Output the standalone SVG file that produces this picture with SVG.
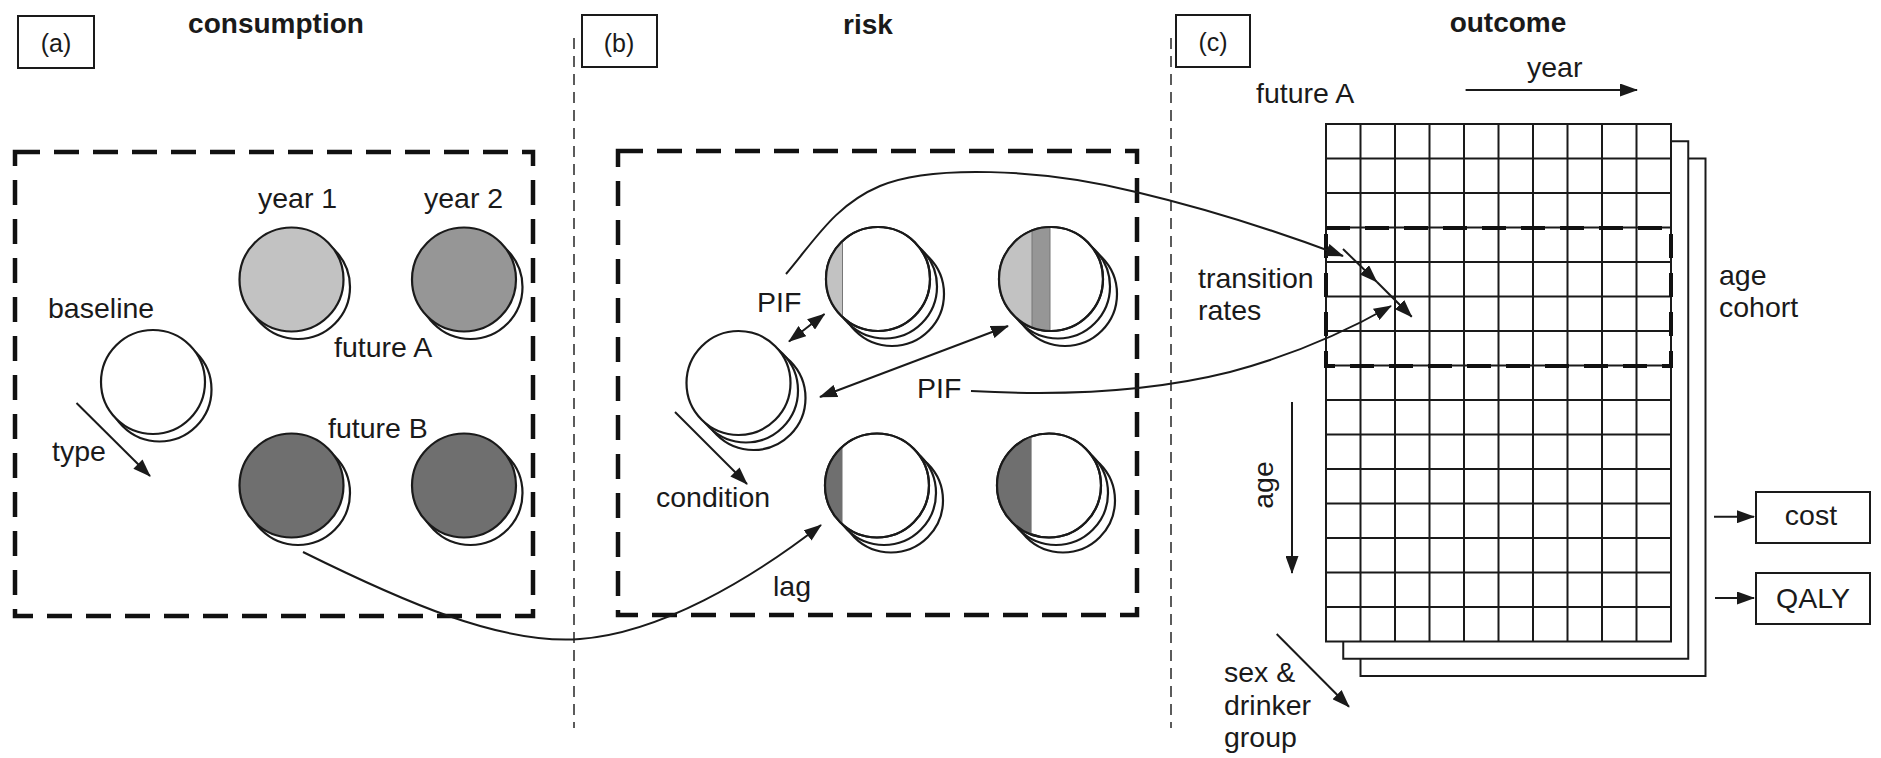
<svg xmlns="http://www.w3.org/2000/svg" width="1881" height="758" viewBox="0 0 1881 758">
<style>
text{font-family:"Liberation Sans",Arial,sans-serif;font-size:28.5px;fill:#1a1a1a}
.title{font-weight:bold;font-size:28px;text-anchor:middle}
.lbl{font-size:25px;text-anchor:middle}
.box{fill:#fff;stroke:#1a1a1a;stroke-width:2}
.zone{fill:none;stroke:#111;stroke-width:4.5;stroke-dasharray:25 14}
.div{fill:none;stroke:#333;stroke-width:1.6;stroke-dasharray:11 7}
.c{stroke:#1a1a1a;stroke-width:2.2;fill:#fff}
.c1{fill:#c2c2c2}
.c2{fill:#969696}
.c3{fill:#6f6f6f}
.cn{fill:none;stroke:#1a1a1a;stroke-width:2}
.g{fill:none;stroke:#1a1a1a;stroke-width:2}
.sheet{fill:#fff;stroke:#1a1a1a;stroke-width:2}
.sep{stroke:#777;stroke-width:1}
.ring{fill:none;stroke:#1a1a1a;stroke-width:2.2}
</style>
<defs>
<marker id="ah" viewBox="0 0 18 13" markerWidth="18" markerHeight="13" refX="17" refY="6.5" markerUnits="userSpaceOnUse" orient="auto-start-reverse">
<path d="M0,0 L18,6.5 L0,13 z" fill="#1a1a1a"/>
</marker>
<clipPath id="k1"><circle cx="878" cy="279" r="52"/></clipPath>
<clipPath id="k2"><circle cx="1051" cy="279" r="52"/></clipPath>
<clipPath id="k3"><circle cx="877" cy="485.5" r="52"/></clipPath>
<clipPath id="k4"><circle cx="1049" cy="485.5" r="52"/></clipPath>
</defs>
<rect width="1881" height="758" fill="#fff"/>

<!-- panel labels and titles -->
<g id="label-a"><rect class="box" x="18" y="16" width="76" height="52"/><text class="lbl" x="56" y="52">(a)</text></g>
<g id="label-b"><rect class="box" x="582" y="15" width="75" height="52"/><text class="lbl" x="619" y="52">(b)</text></g>
<g id="label-c"><rect class="box" x="1176" y="15" width="74" height="52"/><text class="lbl" x="1213" y="51">(c)</text></g>
<text class="title" x="276" y="33">consumption</text>
<text class="title" x="868" y="34">risk</text>
<text class="title" x="1508" y="32">outcome</text>

<!-- dividers and zones -->
<line class="div" x1="574" y1="38" x2="574" y2="728"/>
<line class="div" x1="1171" y1="38" x2="1171" y2="728"/>
<rect class="zone" x="15" y="152" width="518" height="464"/>
<rect class="zone" x="618" y="151" width="519" height="464"/>

<!-- (a) consumption nodes -->
<g id="baseline">
<circle class="c" cx="159.5" cy="389.5" r="52"/><circle class="c" cx="153" cy="382" r="52"/>
<text x="48" y="318">baseline</text>
</g>
<g id="year1">
<circle class="c" cx="298" cy="287" r="52"/><circle class="c c1" cx="291.5" cy="279.5" r="52"/>
<text x="258" y="208">year 1</text>
</g>
<g id="year2">
<circle class="c" cx="470.5" cy="287" r="52"/><circle class="c c2" cx="464" cy="279.5" r="52"/>
<text x="424" y="208">year 2</text>
</g>
<text x="334" y="357">future A</text>
<g id="futureB1">
<circle class="c" cx="298" cy="493" r="52"/><circle class="c c3" cx="291.5" cy="485.5" r="52"/>
</g>
<g id="futureB2">
<circle class="c" cx="470.5" cy="493" r="52"/><circle class="c c3" cx="464" cy="485.5" r="52"/>
</g>
<text x="328" y="438">future B</text>
<text x="52" y="461">type</text>

<!-- (b) risk nodes -->
<g id="risk-base">
<circle class="c" cx="753.5" cy="398" r="52"/><circle class="c" cx="746" cy="390.5" r="52"/><circle class="c" cx="738.5" cy="383" r="52"/>
</g>
<g id="risk-a1">
<circle class="c" cx="892" cy="294" r="52"/><circle class="c" cx="885" cy="286.5" r="52"/><circle class="c" cx="878" cy="279" r="52"/>
<rect class="c1" x="820" y="220" width="22.5" height="120" clip-path="url(#k1)"/>
<line class="sep" x1="842.5" y1="220" x2="842.5" y2="340" clip-path="url(#k1)"/>
<circle class="ring" cx="878" cy="279" r="52"/>
</g>
<g id="risk-a2">
<circle class="c" cx="1065" cy="294" r="52"/><circle class="c" cx="1058" cy="286.5" r="52"/><circle class="c" cx="1051" cy="279" r="52"/>
<rect class="c1" x="990" y="220" width="42" height="120" clip-path="url(#k2)"/>
<rect class="c2" x="1032" y="220" width="18" height="120" clip-path="url(#k2)"/>
<line class="sep" x1="1032" y1="220" x2="1032" y2="340" clip-path="url(#k2)"/>
<line class="sep" x1="1050" y1="220" x2="1050" y2="340" clip-path="url(#k2)"/>
<circle class="ring" cx="1051" cy="279" r="52"/>
</g>
<g id="risk-b1">
<circle class="c" cx="891" cy="500.5" r="52"/><circle class="c" cx="884" cy="493" r="52"/><circle class="c" cx="877" cy="485.5" r="52"/>
<rect class="c3" x="820" y="425" width="22.5" height="120" clip-path="url(#k3)"/>
<circle class="ring" cx="877" cy="485.5" r="52"/>
</g>
<g id="risk-b2">
<circle class="c" cx="1063" cy="500.5" r="52"/><circle class="c" cx="1056" cy="493" r="52"/><circle class="c" cx="1049" cy="485.5" r="52"/>
<rect class="c3" x="990" y="425" width="41.6" height="120" clip-path="url(#k4)"/>
<circle class="ring" cx="1049" cy="485.5" r="52"/>
</g>
<text x="757" y="312">PIF</text>
<text x="917" y="398">PIF</text>
<text x="656" y="507">condition</text>
<text x="773" y="596">lag</text>

<!-- (c) outcome -->
<g id="cohort-grid">
<rect class="sheet" x="1360.5" y="158.5" width="345" height="517.5"/>
<rect class="sheet" x="1343.25" y="141.25" width="345" height="517.5"/>
<rect class="sheet" x="1326" y="124" width="345" height="517.5"/>
<path class="g" d="M1360.5 124V641.5M1395 124V641.5M1429.5 124V641.5M1464 124V641.5M1498.5 124V641.5M1533 124V641.5M1567.5 124V641.5M1602 124V641.5M1636.5 124V641.5
M1326 158.5H1671M1326 193H1671M1326 227.5H1671M1326 262H1671M1326 296.5H1671M1326 331H1671M1326 365.5H1671M1326 400H1671M1326 434.5H1671M1326 469H1671M1326 503.5H1671M1326 538H1671M1326 572.5H1671M1326 607H1671"/>
<rect x="1326" y="228" width="345" height="138" fill="none" stroke="#111" stroke-width="4" stroke-dasharray="24 15"/>
</g>
<text x="1256" y="103">future A</text>
<text x="1527" y="77">year</text>
<text x="1198" y="288">transition</text>
<text x="1198" y="320">rates</text>
<text x="1719" y="285">age</text>
<text x="1719" y="317">cohort</text>
<text transform="translate(1273 485) rotate(-90)" text-anchor="middle">age</text>
<text x="1224" y="682">sex &amp;</text>
<text x="1224" y="715">drinker</text>
<text x="1224" y="747">group</text>
<g id="cost"><rect class="box" x="1756" y="492" width="114" height="51"/><text x="1811" y="525" text-anchor="middle">cost</text></g>
<g id="qaly"><rect class="box" x="1756" y="573" width="114" height="51"/><text x="1813" y="608" text-anchor="middle">QALY</text></g>

<!-- connectors -->
<g id="connectors" class="cn" marker-end="url(#ah)">
<line x1="76.5" y1="403" x2="150" y2="476"/>
<line x1="675" y1="412" x2="747" y2="484"/>
<line x1="789" y1="341.5" x2="824.5" y2="314" marker-start="url(#ah)"/>
<line x1="820" y1="397" x2="1008" y2="326" marker-start="url(#ah)"/>
<path d="M303 552 C400 600,500 645,580 639 C660 633,750 580,821 525"/>
<path d="M786 274 C815 240,835 205,880 186 C930 165,1040 168,1136 192 C1220 212,1290 236,1343 256"/>
<path d="M971 391 C1060 396,1150 392,1230 372 C1290 356,1340 335,1391 306"/>
<line x1="1343" y1="249" x2="1376.7" y2="281.7"/>
<line x1="1376.7" y1="281.7" x2="1411.7" y2="316.7"/>
<line x1="1465.6" y1="90" x2="1637" y2="90"/>
<line x1="1292" y1="402" x2="1292" y2="573"/>
<line x1="1276.7" y1="634" x2="1349" y2="706.7"/>
<line x1="1714" y1="516.7" x2="1754" y2="516.7"/>
<line x1="1715" y1="598" x2="1754" y2="598"/>
</g>
</svg>
